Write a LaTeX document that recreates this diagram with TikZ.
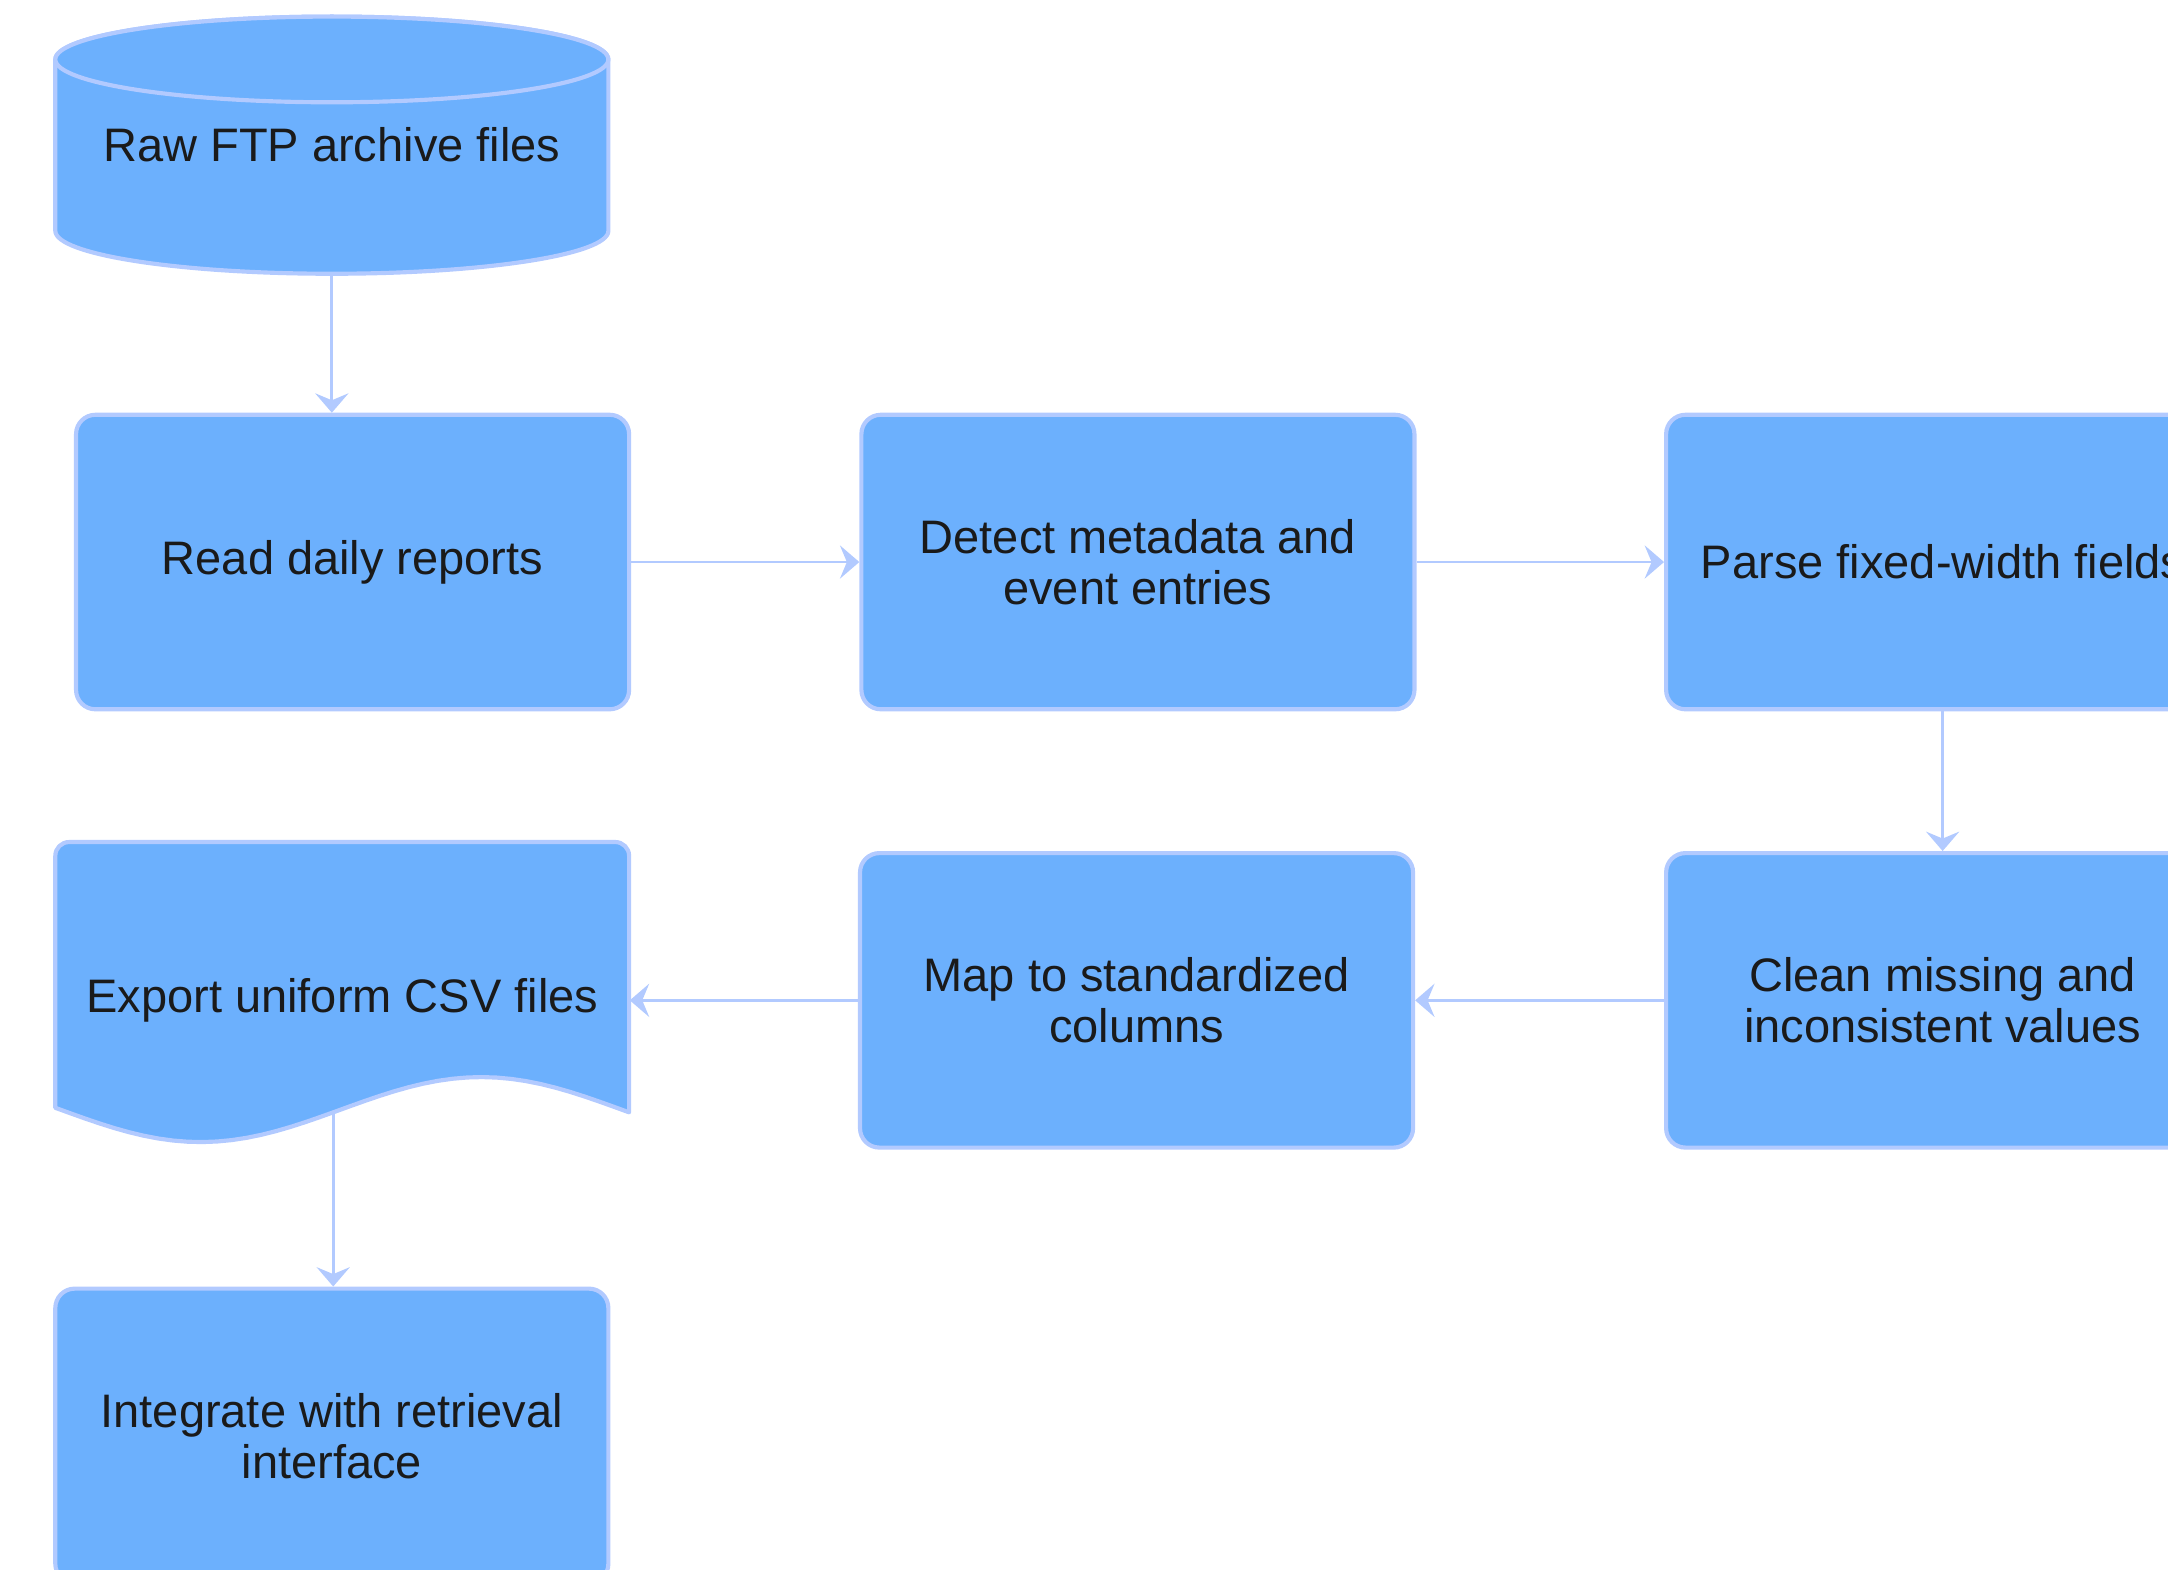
\documentclass[tikz,border=0pt]{standalone}
\usepackage{fontspec}
\setmainfont{Liberation Sans}
\usetikzlibrary{arrows.meta,positioning}

\definecolor{boxfill}{RGB}{108,176,253}
\definecolor{boxline}{RGB}{178,202,255}
\definecolor{boxtext}{RGB}{26,26,26}

\tikzset{
	shapetext/.style={minimum width=200pt,align=center,text=boxtext,
	                  font=\fontsize{17}{18.5}\selectfont},
	block/.style={shapetext,draw=boxline,fill=boxfill,line width=1.5pt,
	              rounded corners=7pt,minimum height=106.5pt},
	outline/.style={draw=boxline,fill=boxfill,line width=1.5pt,line join=round}
}

\begin{document}
\begin{tikzpicture}[x=1pt,y=1pt,
                    flow/.style={-{Stealth[length=7pt,width=12pt,inset=2.5pt]},
                                 draw=boxline,line width=1pt}]

	\useasboundingbox (0,0) rectangle (784,567.5);
	\clip (0,0) rectangle (784,567.5);

	% cylinder and document outlines
	\path[outline] (20,484) arc[start angle=180,end angle=360,x radius=100,y radius=15.5]
		-- (220,546) arc[start angle=0,end angle=180,x radius=100,y radius=15.5] -- cycle;
	\path[outline] (120,546) ellipse[x radius=100,y radius=15.5];
	\path[outline] (20,167) [rounded corners=5pt] -- (20,263) -- (227.5,263) [sharp corners]
		-- plot[domain=227.5:20,samples=40] (\x,{166.25-11.75*cos(1.7734*(\x-72.5))}) -- cycle;

	\node[shapetext,minimum height=92pt] (store) at (120,515) {Raw FTP archive files};
	\node[block] (read) at (127.5,364.25) {Read daily reports};
	\node[block] (detect) [right=82.5pt of read] {Detect metadata and\\event entries};
	\node[block] (parse) [right=89.5pt of detect] {Parse fixed-width fields};
	\node[block] (clean) [below=50.5pt of parse] {Clean missing and\\inconsistent values};
	\node[block] (map) [left=90pt of clean] {Map to standardized\\columns};
	\node[shapetext,minimum width=207.5pt,minimum height=113pt] (export) [left=82.5pt of map] {Export uniform CSV files};
	\node[block] (integrate) at (120,48.25) {Integrate with retrieval\\interface};
	\coordinate (exportfoot) at (120.5,165);

	\draw[flow] (store) -- (store.south |- read.north);
	\draw[flow] (read) -- (detect);
	\draw[flow] (detect) -- (parse);
	\draw[flow] (parse) -- (clean);
	\draw[flow] (clean) -- (map);
	\draw[flow] (map) -- (export);
	\draw[flow] (exportfoot) -- (exportfoot |- integrate.north);

\end{tikzpicture}
\end{document}
